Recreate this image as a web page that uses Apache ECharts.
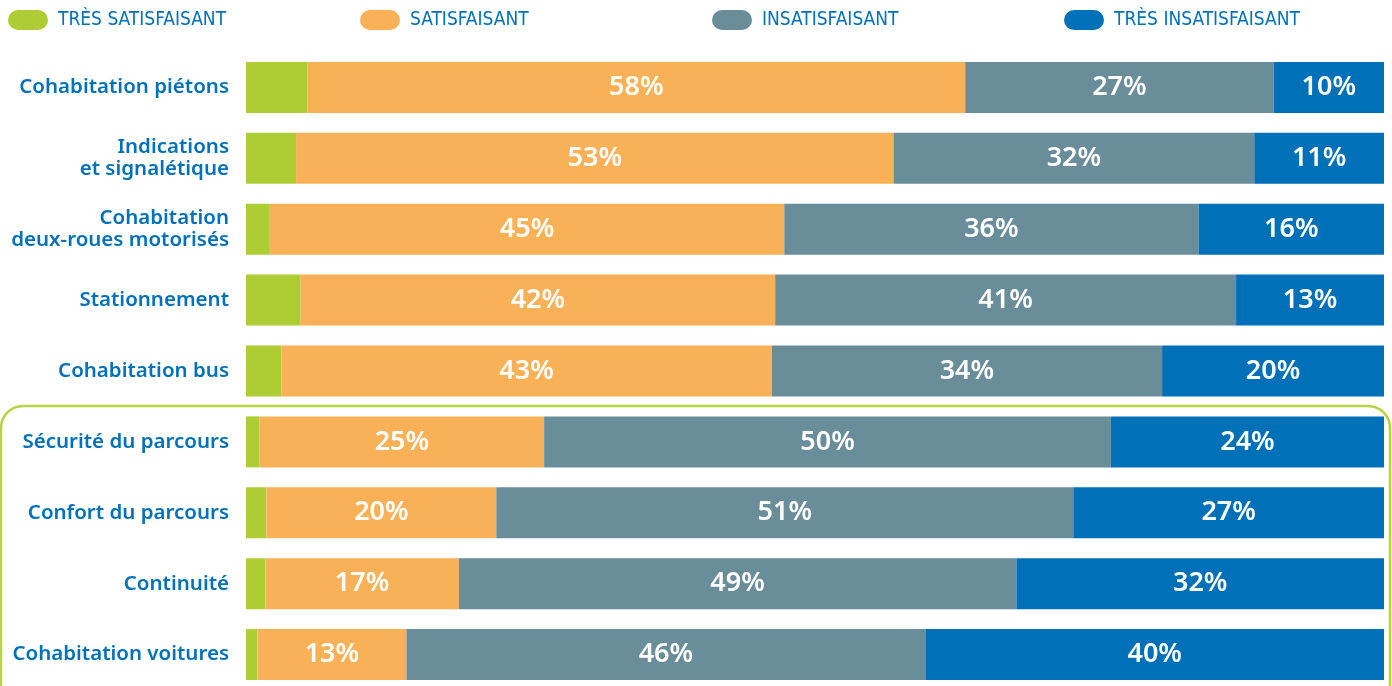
<!DOCTYPE html>
<html>
<head>
<meta charset="utf-8">
<script src="https://cdn.jsdelivr.net/npm/echarts@6/dist/echarts.min.js"></script>
<style>
  html, body { margin: 0; padding: 0; background: #fff; }
  #chart { width: 1392px; height: 686px; }
</style>
</head>
<body>
<div id="chart"></div>
<script>
// rows, top to bottom
const categories = [
  "Cohabitation piétons",
  "Indications\net signalétique",
  "Cohabitation\ndeux-roues motorisés",
  "Stationnement",
  "Cohabitation bus",
  "Sécurité du parcours",
  "Confort du parcours",
  "Continuité",
  "Cohabitation voitures",
];

const seriesNames = ["TRÈS SATISFAISANT", "SATISFAISANT", "INSATISFAISANT", "TRÈS INSATISFAISANT"];

// shares in % (green has no label in the source)
const tresSatisfait = [5.4, 4.4, 2.1, 4.8, 3.1, 1.2, 1.8, 1.7, 1.0];
const satisfait = [57.8, 52.5, 45.2, 41.7, 43.1, 25.0, 20.2, 17.0, 13.1];
const insatisfait = [27.1, 31.7, 36.4, 40.5, 34.3, 49.8, 50.7, 49.0, 45.6];
const tresInsatisfait = [9.7, 11.4, 16.3, 13.0, 19.5, 24.0, 27.3, 32.3, 40.3];

const colors = ["#aecd35", "#f9b158", "#6a8d9a", "#0070b9"];
const textBlue = "#0071bb";

const pill = "path://M10,0 H30 A10,10 0 0 1 30,20 H10 A10,10 0 0 1 10,0 Z";
const legendLeft = [8, 360, 712, 1064];

const chart = echarts.init(document.getElementById("chart"), null, { renderer: "canvas" });

function barSeries(i, values, showLabel) {
  return {
    name: seriesNames[i],
    type: "bar",
    stack: "total",
    barWidth: 51,
    data: values,
    itemStyle: { color: colors[i] },
    label: {
      show: showLabel,
      position: "inside",
      color: "#fff",
      fontFamily: "Noto Sans",
      fontWeight: 600,
      fontSize: 27,
      formatter: (p) => Math.round(p.value) + "%",
    },
    emphasis: { disabled: true },
  };
}

chart.setOption({
  animation: false,
  legend: seriesNames.map((n, i) => ({
    data: [n],
    left: legendLeft[i],
    top: 10,
    padding: 0,
    icon: pill,
    itemWidth: 40,
    itemHeight: 20,
    selectedMode: false,
    textStyle: {
      color: textBlue,
      fontFamily: "'DejaVu Sans Condensed', Roboto, sans-serif",
      fontSize: 19,
      padding: [0, 0, 0, 5],
    },
  })),
  grid: {
    left: 246, right: 8, top: 52, height: 638,
    containLabel: false, outerBoundsMode: "none",
  },
  xAxis: {
    type: "value",
    min: 0,
    max: 100,
    show: false,
  },
  yAxis: {
    type: "category",
    inverse: true,
    data: categories,
    axisLine: { show: false },
    axisTick: { show: false },
    axisLabel: {
      margin: 17,
      color: textBlue,
      fontFamily: "Noto Sans",
      fontWeight: 600,
      fontSize: 20.5,
      lineHeight: 22,
      align: "right",
    },
  },
  series: [
    barSeries(0, tresSatisfait, false),
    barSeries(1, satisfait, true),
    barSeries(2, insatisfait, true),
    barSeries(3, tresInsatisfait, true),
  ],
});

// green frame around the last four rows, placed between "Cohabitation bus" and "Sécurité du parcours"
const yA = chart.convertToPixel({ yAxisIndex: 0 }, categories[4]);
const yB = chart.convertToPixel({ yAxisIndex: 0 }, categories[5]);
const frameTop = Math.round((yA + yB) / 2);
chart.setOption({
  graphic: [{
    type: "rect",
    z: -1,
    shape: { x: 1, y: frameTop, width: 1389, height: 400, r: 22 },
    style: { fill: "none", stroke: "#b7d443", lineWidth: 2.5 },
    silent: true,
  }],
});
</script>
</body>
</html>
